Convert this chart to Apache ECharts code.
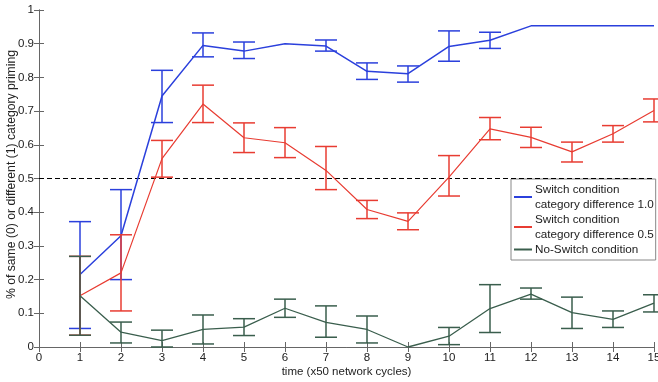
<!DOCTYPE html>
<html>
<head>
<meta charset="utf-8">
<script src="https://cdn.jsdelivr.net/npm/echarts@6/dist/echarts.min.js"></script>
<style>
html,body{margin:0;padding:0;background:#fff;}
#chart{width:658px;height:382px;}
</style>
</head>
<body>
<div id="chart"></div>
<script>
// ---- Data ----
var times = [1,2,3,4,5,6,7,8,9,10,11,12,13,14,15];

var blueName = 'Switch condition\ncategory difference 1.0';
var blueMean = [0.215,0.33,0.745,0.895,0.878,0.90,0.893,0.818,0.811,0.892,0.91,0.953,0.953,0.953,0.953];
var blueLow  = [0.055,0.20,0.666,0.861,0.856,null,0.878,0.794,0.786,0.848,0.886,null,null,null,null];
var blueHigh = [0.372,0.467,0.821,0.932,0.905,null,0.911,0.843,0.834,0.938,0.934,null,null,null,null];

var redName = 'Switch condition\ncategory difference 0.5';
var redMean = [0.152,0.22,0.559,0.721,0.621,0.606,0.524,0.408,0.373,0.504,0.647,0.622,0.579,0.633,0.702];
var redLow  = [0.035,0.107,0.504,0.666,0.577,0.562,0.467,0.381,0.348,0.448,0.615,0.592,0.549,0.608,0.668];
var redHigh = [0.269,0.333,0.613,0.777,0.665,0.651,0.595,0.435,0.398,0.568,0.681,0.652,0.608,0.657,0.736];

var greenName = 'No-Switch condition';
var greenMean = [0.152,0.044,0.019,0.052,0.059,0.115,0.073,0.052,0.0,0.032,0.114,0.157,0.102,0.082,0.13];
var greenLow  = [0.035,0.012,0.0,0.009,0.034,0.088,0.029,0.012,null,0.007,0.043,0.142,0.055,0.058,0.104];
var greenHigh = [0.269,0.074,0.05,0.095,0.084,0.142,0.122,0.092,null,0.058,0.185,0.175,0.148,0.107,0.155];

var xTicks = [0,1,2,3,4,5,6,7,8,9,10,11,12,13,14,15];
var yTicks = [0,0.1,0.2,0.3,0.4,0.5,0.6,0.7,0.8,0.9,1];
var refLine = 0.5;

// ---- Build ----
var BLUE = '#2b40dc', RED = '#e83c32', GREEN = '#3a5e4d';
var FONT = 'Liberation Sans, Arial, sans-serif';

function pairs(mean){ return times.map(function(t,i){ return [t, mean[i]]; }); }
function errData(lo, hi){
  var out = [];
  times.forEach(function(t,i){ if (lo[i] !== null && hi[i] !== null) out.push([t, lo[i], hi[i]]); });
  return out;
}
function errSeries(name, lo, hi, color, z){
  return {
    type: 'custom', name: name, z: z, silent: true,
    data: errData(lo, hi),
    encode: { x: 0, y: [1,2] },
    renderItem: function(params, api){
      var x = api.value(0);
      var pl = api.coord([x, api.value(1)]);
      var ph = api.coord([x, api.value(2)]);
      var hw = 11;
      var st = { stroke: color, lineWidth: 1.5 };
      return { type: 'group', children: [
        { type: 'line', shape: { x1: pl[0], y1: pl[1], x2: ph[0], y2: ph[1] }, style: st },
        { type: 'line', shape: { x1: pl[0]-hw, y1: pl[1], x2: pl[0]+hw, y2: pl[1] }, style: st },
        { type: 'line', shape: { x1: ph[0]-hw, y1: ph[1], x2: ph[0]+hw, y2: ph[1] }, style: st }
      ]};
    }
  };
}

var axisLineStyle = { color: '#666', width: 1 };
var labelStyle = { color: '#222', fontSize: 11.5, fontFamily: FONT };

var option = {
  animation: false,
  backgroundColor: '#fff',
  grid: { left: 39, right: 4, top: 10, bottom: 35, show: false, containLabel: false, outerBoundsMode: 'none' },
  legend: {
    data: [blueName, redName, greenName],
    orient: 'vertical',
    left: 511, top: 179,
    backgroundColor: '#fff',
    borderColor: '#888', borderWidth: 1,
    padding: [3, 2, 3, 3],
    itemGap: 0,
    itemWidth: 18, itemHeight: 2,
    icon: 'rect',
    textStyle: { color: '#222', fontSize: 11.7, fontFamily: FONT, lineHeight: 15, padding: [0,0,0,-2] }
  },
  xAxis: [{
    type: 'value', min: 0, max: 15, interval: 1,
    name: 'time (x50 network cycles)', nameLocation: 'middle', nameGap: 19, nameMoveOverlap: false,
    nameTextStyle: labelStyle,
    axisLine: { show: true, lineStyle: axisLineStyle },
    axisTick: { show: true, inside: true, length: 5, lineStyle: axisLineStyle },
    axisLabel: Object.assign({ margin: 5 }, labelStyle),
    splitLine: { show: false }
  }, {
    type: 'value', min: 0, max: 15, interval: 1, position: 'top',
    axisLine: { show: true, lineStyle: axisLineStyle },
    axisTick: { show: true, inside: true, length: 5, lineStyle: axisLineStyle },
    axisLabel: { show: false }, splitLine: { show: false }
  }],
  yAxis: [{
    type: 'value', min: 0, max: 1, interval: 0.1,
    name: '% of same (0) or different (1) category priming', nameLocation: 'middle', nameGap: 21, nameMoveOverlap: false,
    nameTextStyle: { color: '#222', fontSize: 12.2, fontFamily: FONT, padding: [0, 0, 0, 8] },
    axisLine: { show: true, lineStyle: axisLineStyle },
    axisTick: { show: true, inside: true, length: 5, lineStyle: axisLineStyle },
    axisLabel: Object.assign({ margin: 5, formatter: function(v){
      var r = Math.round(v*10)/10; return (r === 0 || r === 1) ? String(r) : r.toFixed(1);
    } }, labelStyle),
    splitLine: { show: false }
  }, {
    type: 'value', min: 0, max: 1, interval: 0.1, position: 'right',
    axisLine: { show: true, lineStyle: axisLineStyle },
    axisTick: { show: true, inside: true, length: 5, lineStyle: axisLineStyle },
    axisLabel: { show: false }, splitLine: { show: false }
  }],
  series: [
    {
      type: 'line', name: blueName, data: pairs(blueMean), symbol: 'none', z: 5,
      color: BLUE, lineStyle: { color: BLUE, width: 1.5 },
      markLine: {
        silent: true, symbol: 'none', label: { show: false },
        lineStyle: { color: '#000', type: [5, 3], width: 1 },
        data: [{ yAxis: refLine }]
      }
    },
    errSeries(blueName, blueLow, blueHigh, BLUE, 5),
    { type: 'line', name: redName, data: pairs(redMean), symbol: 'none', z: 6,
      color: RED, lineStyle: { color: RED, width: 1.2 } },
    errSeries(redName, redLow, redHigh, RED, 6),
    { type: 'line', name: greenName, data: pairs(greenMean), symbol: 'none', z: 7,
      color: GREEN, lineStyle: { color: GREEN, width: 1.3 } },
    errSeries(greenName, greenLow, greenHigh, GREEN, 7)
  ]
};

var chart = echarts.init(document.getElementById('chart'), null, { renderer: 'canvas' });
chart.setOption(option);
</script>
</body>
</html>
